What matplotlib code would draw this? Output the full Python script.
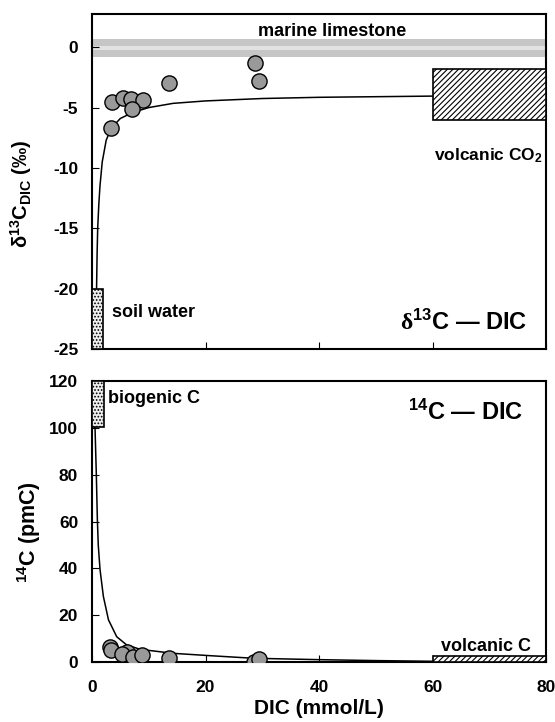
import matplotlib
matplotlib.use("Agg")
import matplotlib.pyplot as plt
from matplotlib.patches import Rectangle

plt.rcParams['font.family'] = ['Liberation Sans', 'DejaVu Sans']
plt.rcParams['font.weight'] = 'bold'
plt.rcParams['axes.labelweight'] = 'bold'
plt.rcParams['mathtext.fontset'] = 'custom'
plt.rcParams['mathtext.rm'] = 'Liberation Sans:bold'
plt.rcParams['mathtext.bf'] = 'Liberation Sans:bold'
plt.rcParams['mathtext.it'] = 'Liberation Sans:bold'
plt.rcParams['mathtext.sf'] = 'Liberation Serif'
plt.rcParams['hatch.linewidth'] = 0.8

# --- delta13C panel data ---
d13_dic = [3.47, 5.4, 6.87, 8.93, 7.1, 3.35, 13.6, 28.8, 29.4]
d13_val = [-4.53, -4.17, -4.3, -4.36, -5.16, -6.68, -3.0, -1.3, -2.79]

d13_curve_dic = [0.8, 0.9, 1.0, 1.2, 1.4, 1.8, 2.5, 3.4, 5.0, 7.2, 10, 14.3, 20, 30, 40, 50, 60]
d13_curve_val = [-20, -17, -15, -13, -11.5, -9.5, -7.7, -6.7, -5.9, -5.4, -5.0, -4.65, -4.45, -4.25, -4.15, -4.1, -4.05]

# --- 14C panel data ---
c14_dic = [3.17, 3.35, 6.1, 5.2, 7.2, 8.75, 13.6, 28.5, 29.4]
c14_val = [6.3, 5.1, 4.4, 3.3, 2.3, 3.0, 1.9, 0.2, 1.3]

c14_curve_dic = [0.53, 0.76, 0.94, 1.1, 1.41, 2.0, 2.9, 4.35, 6.1, 8.5, 14.3, 20.8, 28.4, 40, 50, 60]
c14_curve_val = [100, 80, 61, 50, 39.5, 28, 18, 10.8, 7.3, 5.4, 3.7, 2.7, 1.6, 1.0, 0.6, 0.3]

x_ticks = [0, 20, 40, 60, 80]
d13_ticks = [0, -5, -10, -15, -20, -25]
c14_ticks = [0, 20, 40, 60, 80, 100, 120]

fig = plt.figure(figsize=(5.55, 7.22), dpi=100)
ax1 = fig.add_axes([0.1658, 0.5166, 0.818, 0.464])
ax2 = fig.add_axes([0.1658, 0.0831, 0.818, 0.3892])

marker_kw = dict(s=120, facecolor='#999999', edgecolor='black', linewidths=1.0, zorder=5)

# ---------------- top panel ----------------
ax1.axhspan(-0.8, 0.7, facecolor='#c6c6c6', edgecolor='none', zorder=1)
ax1.axhspan(-0.2, 0.1, facecolor='#e2e2e2', edgecolor='none', zorder=1)
ax1.add_patch(Rectangle((60, -6.0), 20, 4.2, facecolor='white', edgecolor='black',
                        hatch='//////', linewidth=1.2, zorder=3))
ax1.add_patch(Rectangle((0, -25), 1.9, 5, facecolor='#eeeeee', edgecolor='black',
                        hatch='.....', linewidth=1.2, zorder=3))
ax1.plot(d13_curve_dic, d13_curve_val, color='black', lw=1.1, zorder=4)
ax1.scatter(d13_dic, d13_val, **marker_kw)

ax1.text(42.3, 1.3, 'marine limestone', ha='center', va='center', fontsize=13)
ax1.text(60.3, -9.0, 'volcanic CO$_2$', ha='left', va='center', fontsize=12.5)
ax1.text(3.5, -22.0, 'soil water', ha='left', va='center', fontsize=13)
ax1.text(76.8, -22.8, '$\\mathsf{δ}^{\\mathbf{13}}$C \u2014 DIC', ha='right', va='center',
         fontsize=17)

ax1.set_xlim(0, 80)
ax1.set_ylim(-25, 2.75)
ax1.set_xticks(x_ticks)
ax1.set_xticklabels([])
ax1.set_yticks(d13_ticks)
ax1.set_yticklabels([str(t) for t in d13_ticks])
ax1.set_ylabel('δ$^{13}$C$_{\\mathrm{DIC}}$ (‰)', fontsize=14.5)
ax1.yaxis.set_label_coords(-0.128, 0.463)

# ---------------- bottom panel ----------------
ax2.add_patch(Rectangle((60, 0), 20, 2.6, facecolor='white', edgecolor='black',
                        hatch='//////', linewidth=1.2, zorder=3))
ax2.add_patch(Rectangle((0, 100.5), 2.1, 19.5, facecolor='#eeeeee', edgecolor='black',
                        hatch='.....', linewidth=1.2, zorder=3))
ax2.plot(c14_curve_dic, c14_curve_val, color='black', lw=1.1, zorder=4)
ax2.scatter(c14_dic, c14_val, **marker_kw)

ax2.text(2.8, 112.7, 'biogenic C', ha='left', va='center', fontsize=13)
ax2.text(61.5, 6.8, 'volcanic C', ha='left', va='center', fontsize=13)
ax2.text(75.9, 106.5, '$^{\\mathbf{14}}$C \u2014 DIC', ha='right', va='center', fontsize=17)

ax2.set_xlim(0, 80)
ax2.set_ylim(0, 120)
ax2.set_xticks(x_ticks)
ax2.set_yticks(c14_ticks)
ax2.set_xlabel('DIC (mmol/L)', fontsize=15, labelpad=3)
ax2.set_ylabel('$^{14}$C (pmC)', fontsize=15.5)
ax2.yaxis.set_label_coords(-0.108, 0.463)

for ax in (ax1, ax2):
    for sp in ax.spines.values():
        sp.set_linewidth(1.5)
    ax.tick_params(direction='in', length=5, width=0.8, labelsize=12.5,
                   top=False, right=False)
    ax.tick_params(axis='y', pad=10)
ax2.tick_params(axis='x', pad=13)

fig.savefig('out.png', dpi=100)
